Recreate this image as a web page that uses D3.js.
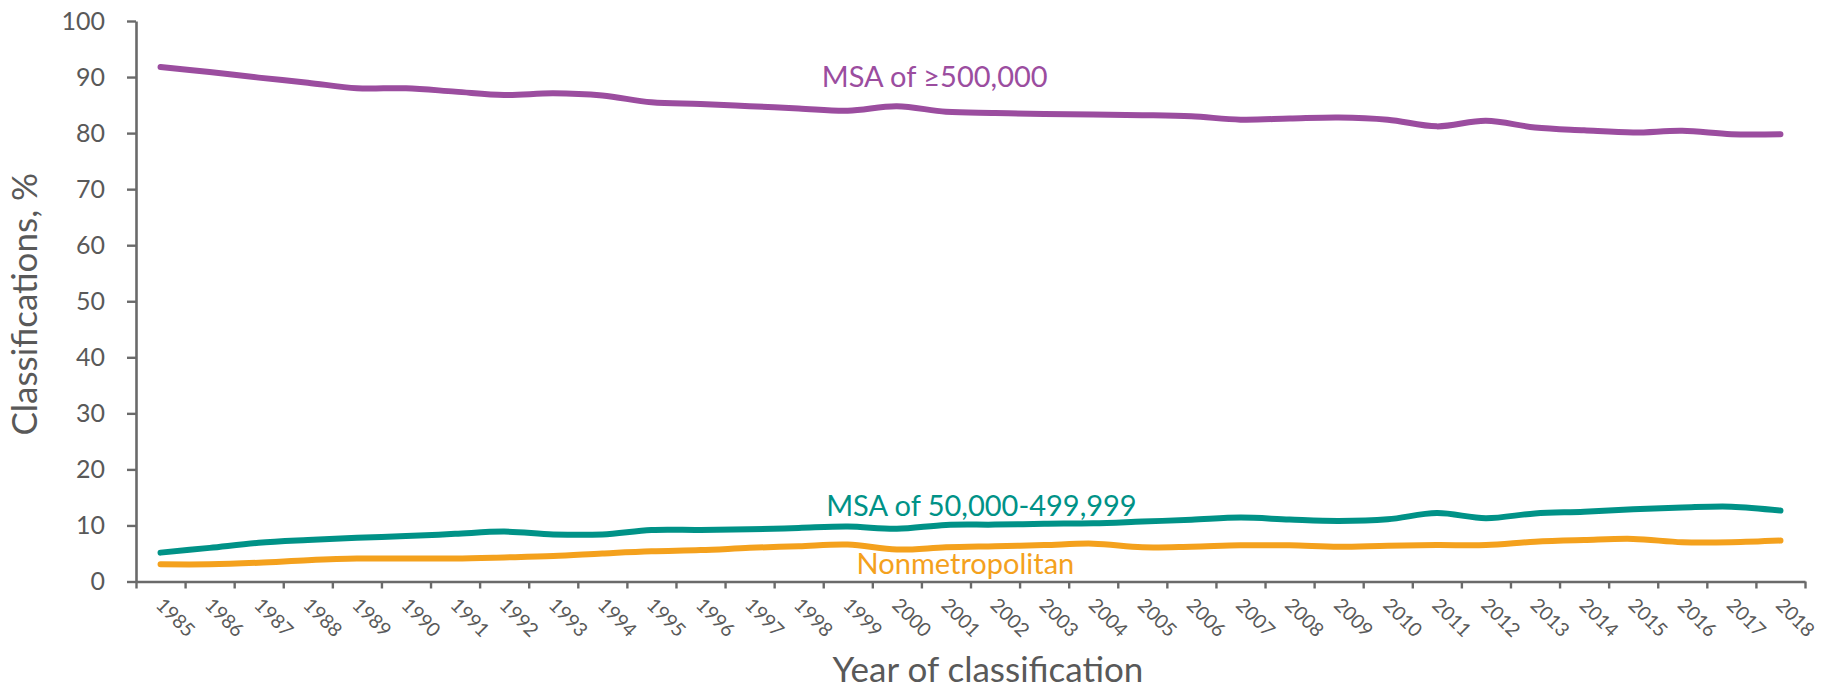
<!DOCTYPE html>
<html>
<head>
<meta charset="utf-8">
<script src="https://cdn.jsdelivr.net/npm/d3@7"></script>
<style>
  html, body { margin: 0; padding: 0; background: #ffffff; }
  svg { display: block; font-family: Lato, "Open Sans", sans-serif; }
</style>
</head>
<body>
<svg id="chart" width="1826" height="687"></svg>
<script>
// ---- data ----
const years = ["1985","1986","1987","1988","1989","1990","1991","1992","1993","1994","1995","1996",
  "1997","1998","1999","2000","2001","2002","2003","2004","2005","2006","2007","2008","2009","2010",
  "2011","2012","2013","2014","2015","2016","2017","2018"];
const msaLarge = [91.8, 90.9, 89.9, 89.0, 88.0, 88.0, 87.4, 86.8, 87.1, 86.7, 85.5, 85.2, 84.8, 84.4,
  84.0, 84.8, 83.8, 83.6, 83.4, 83.3, 83.2, 83.0, 82.4, 82.6, 82.8, 82.4, 81.2, 82.2, 81.0, 80.5,
  80.1, 80.4, 79.8, 79.8];
const msaSmall = [5.15, 6.0, 6.9, 7.4, 7.8, 8.1, 8.5, 8.9, 8.4, 8.4, 9.2, 9.2, 9.3, 9.55, 9.8, 9.4,
  10.1, 10.15, 10.3, 10.4, 10.7, 11.0, 11.4, 11.05, 10.8, 11.1, 12.2, 11.3, 12.15, 12.45, 12.9, 13.2,
  13.35, 12.65];
const nonMetro = [3.07, 3.07, 3.35, 3.8, 4.1, 4.1, 4.1, 4.3, 4.55, 5.0, 5.4, 5.6, 6.0, 6.3, 6.6, 5.7,
  6.1, 6.3, 6.5, 6.75, 6.1, 6.2, 6.45, 6.45, 6.2, 6.4, 6.5, 6.5, 7.1, 7.4, 7.6, 7.0, 7.0, 7.3];
const yTicks = [0, 10, 20, 30, 40, 50, 60, 70, 80, 90, 100];
const seriesNames = ["MSA of \u2265500,000", "MSA of 50,000-499,999", "Nonmetropolitan"];
const yTitle = "Classifications, %";
const xTitle = "Year of classification";

// ---- layout ----
const svg = d3.select("#chart");
const plotLeft = 136, plotRight = 1805, plotTop = 21, plotBottom = 581.5;
const axisColor = "#6a6a6a", textColor = "#595959";
const colors = ["#9b4d9f", "#009287", "#f4a11d"];

const x = d3.scaleBand().domain(years).range([plotLeft, plotRight]).padding(0);
const xEdge = d3.scaleLinear().domain([0, years.length]).range([plotLeft, plotRight]);
const y = d3.scaleLinear().domain([0, 100]).range([plotBottom, plotTop]);
const cx = d => x(d) + x.bandwidth() / 2;

// y axis
const gy = svg.append("g").attr("transform", `translate(${plotLeft},0)`)
  .call(d3.axisLeft(y).tickValues(yTicks).tickSize(9).tickPadding(22).tickSizeOuter(0));
gy.select(".domain").attr("stroke", axisColor).attr("stroke-width", 2.6);
gy.selectAll(".tick line").attr("stroke", axisColor).attr("stroke-width", 2.4);
gy.selectAll(".tick text").attr("fill", textColor).style("font-size", "25px")
  .style("font-family", "Lato, sans-serif");

// x axis (ticks between categories)
const gx = svg.append("g").attr("transform", `translate(0,${plotBottom})`)
  .call(d3.axisBottom(xEdge).tickValues(d3.range(years.length + 1)).tickSize(7).tickFormat("").tickSizeOuter(0));
gx.select(".domain").attr("stroke", axisColor).attr("stroke-width", 2.6);
gx.selectAll(".tick line").attr("stroke", axisColor).attr("stroke-width", 2.4);

// x tick labels, rotated 45°
svg.append("g").selectAll("text").data(years).join("text")
  .attr("transform", d => `translate(${cx(d) - 1},${plotBottom + 20}) rotate(45)`)
  .attr("dy", "0.35em")
  .attr("text-anchor", "start")
  .attr("fill", textColor)
  .style("font-size", "19.5px")
  .text(d => d);

// lines
const seriesData = [msaLarge, msaSmall, nonMetro];
const line = d3.line().x((d, i) => cx(years[i])).y(d => y(d)).curve(d3.curveCatmullRom.alpha(0.5));
[2, 1, 0].forEach(k => {
  svg.append("path").datum(seriesData[k])
    .attr("d", line)
    .attr("fill", "none")
    .attr("stroke", colors[k])
    .attr("stroke-width", 6)
    .attr("stroke-linecap", "round")
    .attr("stroke-linejoin", "round");
});

// series labels
const labelPos = [
  { xi: 13.97, v: 88.2 },
  { xi: 14.06, v: 11.6 },
  { xi: 14.68, v: 1.3 }
];
seriesNames.forEach((name, k) => {
  svg.append("text")
    .attr("x", xEdge(labelPos[k].xi))
    .attr("y", y(labelPos[k].v))
    .attr("fill", colors[k])
    .style("font-size", "29px")
    .text(name);
});

// axis titles
svg.append("text")
  .attr("transform", `translate(37,${(plotTop + plotBottom) / 2 + 3}) rotate(-90)`)
  .attr("text-anchor", "middle")
  .attr("fill", textColor)
  .style("font-size", "35px")
  .text(yTitle);

svg.append("text")
  .attr("x", 988)
  .attr("y", 682)
  .attr("text-anchor", "middle")
  .attr("fill", textColor)
  .style("font-size", "35px")
  .text(xTitle);
</script>
</body>
</html>
